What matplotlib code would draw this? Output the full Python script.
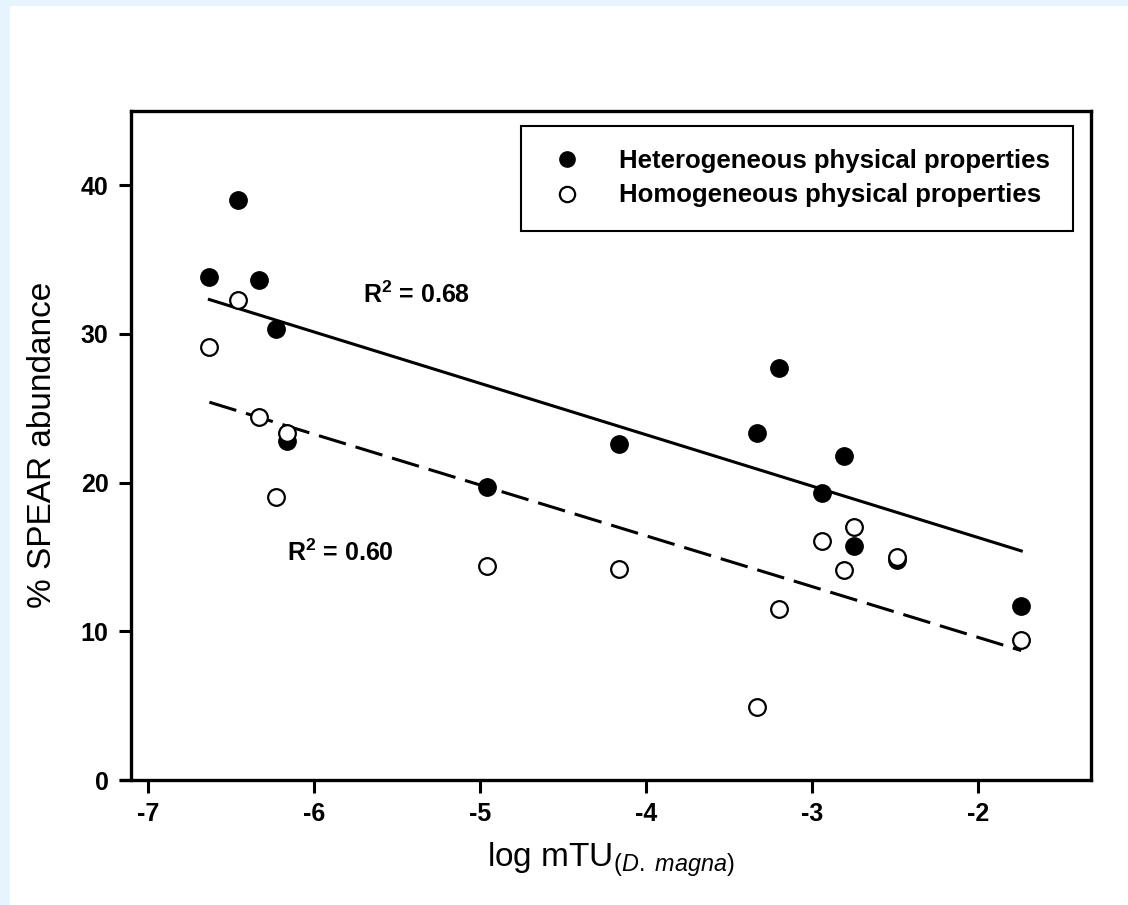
import matplotlib.pyplot as plt
import numpy as np
from matplotlib.patches import Rectangle

plt.rcParams['font.family'] = ['Liberation Sans', 'DejaVu Sans']
plt.rcParams['mathtext.fontset'] = 'custom'
plt.rcParams['mathtext.rm'] = 'Liberation Sans'
plt.rcParams['mathtext.it'] = 'Liberation Sans:italic'
plt.rcParams['mathtext.bf'] = 'Liberation Sans:bold'

# log mTU (D. magna) per site, same sites for both groups
log_mtu = [-6.63, -6.46, -6.33, -6.23, -6.16, -4.96, -4.16,
           -3.33, -3.20, -2.94, -2.81, -2.75, -2.49, -1.74]
# % SPEAR abundance
spear_hetero = [33.8, 39.0, 33.6, 30.3, 22.8, 19.7, 22.6,
                23.3, 27.7, 19.3, 21.8, 15.7, 14.8, 11.7]
spear_homo = [29.1, 32.3, 24.4, 19.0, 23.3, 14.4, 14.2,
              4.9, 11.5, 16.1, 14.1, 17.0, 15.0, 9.4]
# regression lines as drawn in the figure (slope, intercept)
fit_hetero = (-3.456, 9.39)
fit_homo = (-3.415, 2.76)
r2_hetero = 0.68
r2_homo = 0.60
x_ticks = [-7, -6, -5, -4, -3, -2]
y_ticks = [0, 10, 20, 30, 40]

fig = plt.figure(figsize=(11.28, 9.05), dpi=100, facecolor='#e8f4fd')
bg = Rectangle((10/1128, 0), 1, 1 - 6/905, transform=fig.transFigure,
               facecolor='white', edgecolor='none', zorder=-10)
fig.patches.append(bg)
ax = fig.add_axes([130.7/1128, 1 - 780/905, (1091 - 130.7)/1128, (780 - 110.7)/905])
ax.set_zorder(5)

x = np.array(log_mtu)
xf = np.array([x.min(), x.max()])
for (k, b), ls in [(fit_hetero, '-'), (fit_homo, (0, (9.2, 3.3)))]:
    ax.plot(xf, k*xf + b, color='black', lw=2.2, ls=ls, zorder=2)

ax.plot(x, spear_hetero, 'o', color='black', ms=12.5, zorder=3,
        label='Heterogeneous physical properties')
ax.plot(x, spear_homo, 'o', mfc='white', mec='black', mew=1.6, ms=12, zorder=4,
        label='Homogeneous physical properties')

ax.set_xlim(-7.104, -1.32)
ax.set_ylim(0, 45)
ax.set_xticks(x_ticks)
ax.set_yticks(y_ticks)
ax.set_xticklabels([str(t) for t in x_ticks], fontsize=18, fontweight='bold')
ax.set_yticklabels([str(t) for t in y_ticks], fontsize=18, fontweight='bold')
ax.tick_params(axis='both', direction='out', length=9, width=2.2, pad=7)
for s in ax.spines.values():
    s.set_linewidth(2.4)
ax.spines['bottom'].set_bounds(-7.16, -1.32)

ax.set_xlabel(r'log mTU$_{(\mathit{D.\ magna})}$', fontsize=24, labelpad=10)
ax.set_ylabel('% SPEAR abundance', fontsize=24, labelpad=16)

ax.text(-5.705, 32.6, r'$\mathbf{R^{2}}$ = %.2f' % r2_hetero, fontsize=18,
        fontweight='bold', va='center')
ax.text(-6.163, 15.3, r'$\mathbf{R^{2}}$ = %.2f' % r2_homo, fontsize=18,
        fontweight='bold', va='center')

leg = ax.legend(loc='upper right', bbox_to_anchor=(0.981, 0.977), borderaxespad=0,
                fancybox=False, framealpha=1, edgecolor='black',
                prop={'size': 18.5, 'weight': 'bold'}, handletextpad=1.1,
                borderpad=0.9, labelspacing=0.4, handlelength=1.8)
leg.get_frame().set_linewidth(1.5)
for h in leg.legend_handles:
    h.set_markersize(11)

fig.savefig('out.png', dpi=100, facecolor=fig.get_facecolor())
